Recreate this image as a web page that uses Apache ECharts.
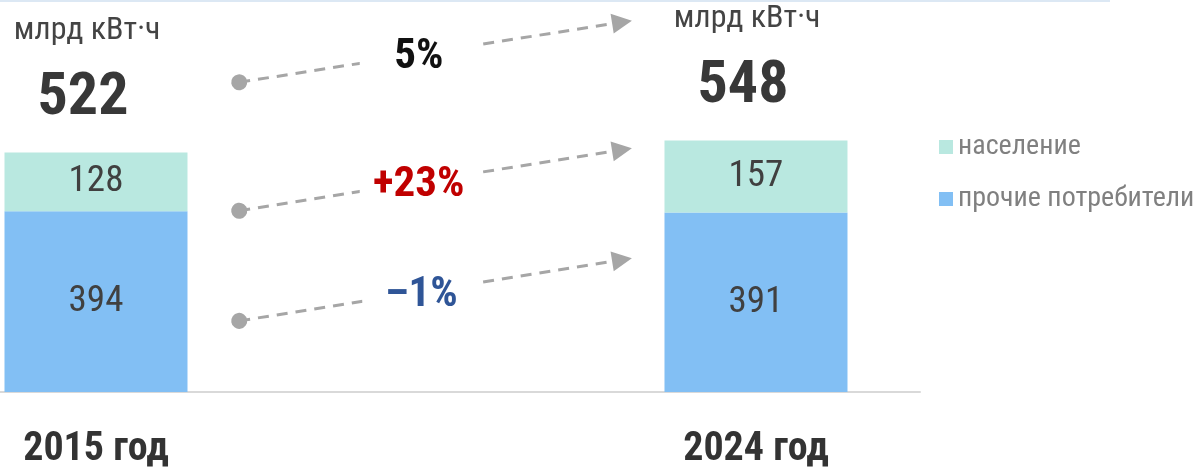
<!DOCTYPE html>
<html>
<head>
<meta charset="utf-8">
<script src="https://cdn.jsdelivr.net/npm/echarts@6/dist/echarts.min.js"></script>
<style>
  html, body { margin: 0; padding: 0; background: #fff; }
  #chart { width: 1200px; height: 467px; }
</style>
</head>
<body>
<div id="chart"></div>
<script>
// данные
const categories = ['2015 год', '2024 год']
const population = [128, 157]
const others = [394, 391]
const seriesNames = ['население', 'прочие потребители']
const changes = ['5%', '+23%', '–1%']
const changeColors = ['#111111', '#c00000', '#2f5597']

const totals = population.map((v, i) => v + others[i])
const FONT = "'Roboto Condensed', 'DejaVu Sans Condensed', sans-serif"

// стрелки между столбцами (в координатах осей)
const arrows = [
  [[0.217, 675], [0.797, 806]],
  [[0.217, 395], [0.797, 528]],
  [[0.217, 155], [0.797, 288]]
]
const changeSpots = [[0.489, 730], [0.489, 450], [0.493, 210]]

const chart = echarts.init(document.getElementById('chart'))

const barLabel = {
  show: true,
  position: 'inside',
  formatter: (p) => p.value[0],
  fontSize: 37,
  fontFamily: FONT,
  color: '#404040'
}

const options = {
  animation: false,
  graphic: [
    {
      type: 'rect',
      shape: { x: 0, y: 0, width: 1110, height: 2 },
      style: { fill: '#dce8f4' }
    }
  ],
  legend: {
    data: seriesNames,
    orient: 'vertical',
    left: 934,
    top: 128,
    icon: 'rect',
    itemWidth: 14,
    itemHeight: 14,
    itemGap: 24,
    textStyle: { color: '#808080', fontSize: 28, fontFamily: FONT }
  },
  grid: { left: 0, right: 280, top: 2, bottom: 75, outerBoundsMode: 'none', containLabel: false },
  xAxis: {
    type: 'value',
    min: -0.14545,
    max: 1.2485,
    splitLine: { show: false },
    axisTick: { show: false },
    axisLine: { show: true, lineStyle: { color: '#d9d9d9', width: 2 } },
    axisLabel: {
      customValues: [0, 1],
      formatter: (v) => categories[Math.round(v)],
      margin: 38,
      fontSize: 40,
      fontWeight: 'bold',
      fontFamily: FONT,
      color: '#333333'
    }
  },
  yAxis: {
    type: 'value',
    min: 0,
    max: 850,
    show: false,
    splitLine: { show: false }
  },
  series: [
    {
      name: seriesNames[1],
      type: 'bar',
      stack: 'total',
      barWidth: 183,
      color: '#82bff4',
      // значение первым, чтобы стек шёл по оси Y
      data: others.map((v, i) => [v, i]),
      encode: { x: 1, y: 0 },
      label: barLabel
    },
    {
      name: seriesNames[0],
      type: 'bar',
      stack: 'total',
      barWidth: 183,
      color: '#b9e8e0',
      data: population.map((v, i) => [v, i]),
      encode: { x: 1, y: 0 },
      label: barLabel
    },
    {
      // подписи итогов над столбцами
      type: 'scatter',
      symbolSize: 1,
      itemStyle: { color: 'rgba(0,0,0,0)', opacity: 1 },
      data: totals.map((v, i) => [i, v]),
      label: {
        show: true,
        position: 'top',
        distance: 16,
        offset: [-9, 0],
        formatter: (p) => `{u|млрд кВт·ч}\n{t|${p.value[1]}}`,
        rich: {
          u: { fontSize: 32, lineHeight: 62, color: '#444444', fontFamily: FONT },
          t: { fontSize: 60, lineHeight: 74, fontWeight: 'bold', color: '#383838', fontFamily: FONT, padding: [0, 8, 0, 0] }
        }
      },
      z: 5
    },
    {
      // пунктирные стрелки
      type: 'lines',
      coordinateSystem: 'cartesian2d',
      symbol: ['circle', 'path://M5,0 L10,10 L0,10 Z'],
      symbolSize: [16, 20],
      lineStyle: { color: '#a6a6a6', width: 3, type: [11, 8], opacity: 1 },
      data: arrows.map((c) => ({ coords: c })),
      z: 3
    },
    {
      // проценты изменения
      type: 'scatter',
      symbolSize: 1,
      itemStyle: { color: 'rgba(0,0,0,0)', opacity: 1 },
      data: changeSpots.map((c, i) => ({
        value: c,
        label: { color: changeColors[i] }
      })),
      label: {
        show: true,
        position: 'inside',
        formatter: (p) => changes[p.dataIndex],
        fontSize: 43,
        fontWeight: 'bold',
        fontFamily: FONT,
        width: 118,
        align: 'center',
        backgroundColor: '#ffffff',
        padding: [6, 0]
      },
      z: 6
    }
  ]
}

chart.setOption(options)
</script>
</body>
</html>
